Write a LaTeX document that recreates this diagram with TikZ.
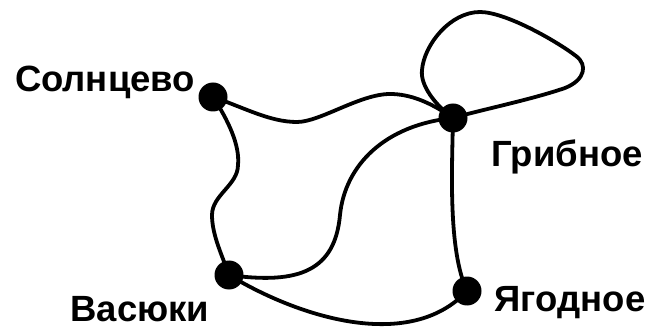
\documentclass[tikz,border=0pt]{standalone}
\usepackage{fontspec}
\setmainfont{Liberation Sans}
\begin{document}
\begin{tikzpicture}[x=1pt,y=-1pt,
  dot/.style={circle,fill=black,inner sep=0pt,minimum size=29pt},
  road/.style={line width=3.8pt,line cap=round,line join=round},
  lbl/.style={anchor=base,inner sep=0pt,font=\fontsize{36.5}{42}\selectfont\bfseries}]
\useasboundingbox (0,0) rectangle (648,331);
\node[dot] (S) at (213,97) {};
\node[dot] (G) at (453,118) {};
\node[dot] (V) at (229,275) {};
\node[dot] (Y) at (467,291) {};
\node[lbl] (Sl) at (105,92) {Солнцево};
\node[lbl] (Gl) at (567,167) {Грибное};
\node[lbl] (Vl) at (140,321) {Васюки};
\node[lbl] (Yl) at (570,311) {Ягодное};
% Солнцево - Грибное
\draw[road] (S.center) .. controls (245,108) and (270,122) .. (297,122)
  .. controls (320,122) and (360,94) .. (390,94)
  .. controls (410,94) and (430,102) .. (G.center);
% Солнцево - Васюки
\draw[road] (S.center) .. controls (228,120) and (240,145) .. (238,165)
  .. controls (238,185) and (212,195) .. (212,215)
  .. controls (212,235) and (222,255) .. (V.center);
% Васюки - Грибное
\draw[road] (V.center) .. controls (300,285) and (335,270) .. (340,215)
  .. controls (345,165) and (385,125) .. (G.center);
% Грибное - Ягодное
\draw[road] (G.center) .. controls (452,170) and (448,250) .. (Y.center);
% Васюки - Ягодное
\draw[road] (V.center) .. controls (300,318) and (410,352) .. (Y.center);
% loop at Грибное
\draw[road] (G.center) .. controls (435,105) and (420,85) .. (422,70)
  .. controls (424,45) and (450,12) .. (480,12)
  .. controls (505,12) and (555,40) .. (576,56)
  .. controls (588,65) and (585,80) .. (565,88)
  .. controls (530,100) and (480,110) .. (G.center);
\end{tikzpicture}
\end{document}
